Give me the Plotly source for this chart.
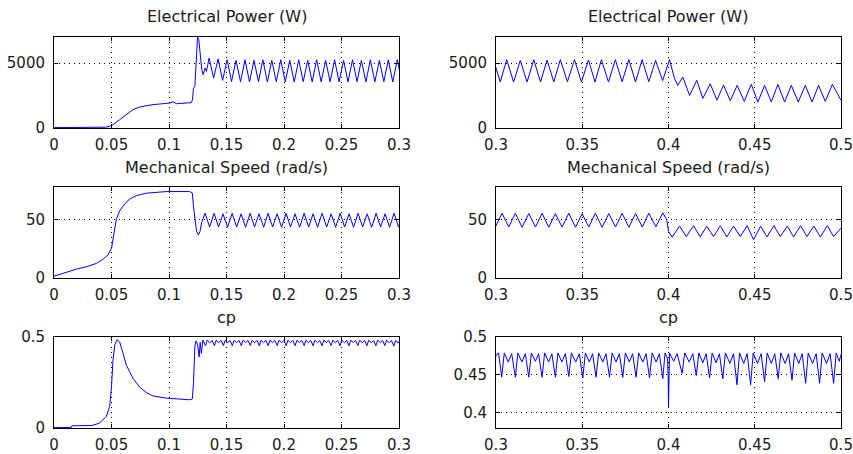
import plotly.graph_objects as go

# ---------------- data ----------------
power_t = [
    0.0000, 0.0200, 0.0450, 0.0484, 0.0513, 0.0571, 0.0629, 0.0687, 0.0745, 0.0803,
    0.0861, 0.0948, 0.1006, 0.1035, 0.1064, 0.1150, 0.1194, 0.1204, 0.1213, 0.1225,
    0.1233, 0.1248, 0.1259, 0.1271, 0.1285, 0.1297, 0.1314, 0.1326,
    0.1349, 0.1388, 0.1427, 0.1466, 0.1505, 0.1544, 0.1583, 0.1622, 0.1661, 0.1700,
    0.1739, 0.1778, 0.1816, 0.1855, 0.1894, 0.1933, 0.1972, 0.2011, 0.2050, 0.2089,
    0.2128, 0.2167, 0.2206, 0.2245, 0.2284, 0.2323, 0.2362, 0.2401, 0.2440, 0.2479,
    0.2518, 0.2557, 0.2596, 0.2635, 0.2673, 0.2712, 0.2751, 0.2790, 0.2829, 0.2868,
    0.2907, 0.2946, 0.2985, 0.3025,
    0.3062, 0.3102, 0.3141, 0.3180, 0.3219, 0.3258, 0.3296, 0.3335, 0.3373, 0.3414,
    0.3455, 0.3495, 0.3536, 0.3574, 0.3611, 0.3652, 0.3692, 0.3731, 0.3770, 0.3809,
    0.3847, 0.3886, 0.3925, 0.3966, 0.4006, 0.4035, 0.4054, 0.4083, 0.4122, 0.4164,
    0.4199, 0.4242, 0.4281, 0.4319, 0.4358, 0.4398, 0.4439, 0.4480, 0.4518, 0.4557,
    0.4596, 0.4634, 0.4673, 0.4712, 0.4752, 0.4793, 0.4832, 0.4870, 0.4909, 0.4950,
    0.5000]
power_w = [
    30, 40, 60, 130, 256, 640, 1025, 1410, 1615, 1720,
    1800, 1870, 1920, 2025, 1870, 1920, 1950, 2165, 3067, 3196,
    5000, 7000, 6800, 5773, 4485, 4098, 4613, 4356,
    5387, 3840, 5309, 3660, 5250, 3580, 5200, 3560, 5250, 3550,
    5200, 3560, 5250, 3540, 5200, 3560, 5250, 3550, 5200, 3540,
    5250, 3560, 5200, 3540, 5250, 3550, 5200, 3560, 5250, 3540,
    5200, 3550, 5250, 3560, 5200, 3540, 5250, 3550, 5200, 3560,
    5250, 3540, 5250, 3540,
    5256, 3540, 5200, 3538, 5256, 3540, 5230, 3538, 5256, 3560,
    5256, 3540, 5230, 3538, 5256, 3540, 5256, 3560, 5256, 3540,
    5256, 3560, 5200, 3650, 5256, 3800, 3280, 3920, 2510, 3670,
    2280, 3400, 2150, 3300, 2100, 3280, 2050, 3360, 2000, 3280,
    2000, 3360, 2000, 3280, 2000, 3280, 2000, 3280, 2050, 3360,
    2128]

speed_t = [
    0.0000, 0.0107, 0.0194, 0.0281, 0.0368, 0.0426, 0.0470, 0.0500, 0.0519, 0.0542,
    0.0571, 0.0615, 0.0658, 0.0716, 0.0803, 0.0890, 0.0977, 0.1180, 0.1203, 0.1214,
    0.1226, 0.1240, 0.1255, 0.1270, 0.1285,
    0.1314, 0.1353, 0.1392, 0.1431, 0.1470, 0.1510, 0.1549, 0.1588, 0.1627, 0.1666,
    0.1705, 0.1744, 0.1783, 0.1823, 0.1862, 0.1901, 0.1940, 0.1979, 0.2018, 0.2057,
    0.2096, 0.2136, 0.2175, 0.2214, 0.2253, 0.2292, 0.2331, 0.2371, 0.2410, 0.2449,
    0.2488, 0.2527, 0.2566, 0.2605, 0.2644, 0.2684, 0.2723, 0.2762, 0.2801, 0.2840,
    0.2879, 0.2918, 0.2957, 0.2996,
    0.3035, 0.3074, 0.3112, 0.3151, 0.3190, 0.3229, 0.3267, 0.3306, 0.3344, 0.3383,
    0.3422, 0.3461, 0.3499, 0.3538, 0.3576, 0.3615, 0.3654, 0.3693, 0.3731, 0.3770,
    0.3809, 0.3848, 0.3886, 0.3927, 0.3967, 0.3990, 0.4000, 0.4021, 0.4064, 0.4103,
    0.4145, 0.4184, 0.4222, 0.4261, 0.4300, 0.4338, 0.4377, 0.4416, 0.4456, 0.4493,
    0.4534, 0.4571, 0.4611, 0.4648, 0.4689, 0.4725, 0.4766, 0.4803, 0.4843, 0.4880,
    0.4921, 0.4957, 0.5000]
speed_w = [
    1.5, 5.2, 7.6, 9.6, 12.5, 16.0, 19.8, 25.6, 38.7, 50.3,
    57.6, 63.4, 67.7, 70.6, 72.7, 73.5, 74.1, 74.1, 72.7, 60.5,
    48.8, 40.0, 37.0, 40.0, 48.0,
    55.5, 43.7, 55.5, 43.7, 55.0, 43.5, 55.5, 43.7, 55.0, 43.5,
    55.5, 43.7, 55.0, 43.5, 55.5, 43.7, 55.0, 43.5, 55.5, 43.7,
    55.0, 43.5, 55.5, 43.7, 55.0, 43.5, 55.5, 43.7, 55.0, 43.5,
    55.5, 43.7, 55.0, 43.5, 55.5, 43.7, 55.0, 43.5, 55.5, 43.7,
    55.0, 43.5, 55.5, 43.7,
    55.5, 43.7, 55.5, 43.5, 55.2, 43.7, 55.5, 43.5, 55.2, 43.7,
    55.5, 43.5, 55.2, 43.7, 55.5, 43.5, 55.2, 43.7, 55.5, 43.5,
    55.2, 43.7, 55.5, 44.0, 55.8, 50.0, 40.0, 35.0, 44.5, 35.5,
    44.8, 35.2, 44.5, 35.5, 44.8, 35.2, 44.5, 35.5, 44.8, 32.8,
    44.5, 35.2, 44.8, 35.5, 44.5, 35.2, 44.8, 35.5, 44.5, 35.2,
    44.8, 35.5, 42.8]

cp_t = [
    0.0000, 0.0150, 0.0155, 0.0330, 0.0397, 0.0455, 0.0484, 0.0500, 0.0513, 0.0528,
    0.0548, 0.0571, 0.0600, 0.0629, 0.0687, 0.0745, 0.0803, 0.0861, 0.0977, 0.1093,
    0.1180, 0.1203, 0.1213, 0.1225, 0.1235, 0.1248, 0.1262, 0.1271, 0.1282, 0.1294,
    0.1317, 0.1332, 0.1355, 0.1375, 0.1395, 0.1410, 0.1433, 0.1453,
    0.1473, 0.1488, 0.1511, 0.1531, 0.1551, 0.1566, 0.1589, 0.1609,
    0.1629, 0.1644, 0.1667, 0.1687, 0.1707, 0.1722, 0.1745, 0.1765,
    0.1785, 0.1800, 0.1823, 0.1843, 0.1863, 0.1878, 0.1901, 0.1921,
    0.1941, 0.1956, 0.1979, 0.1999, 0.2019, 0.2034, 0.2057, 0.2077,
    0.2097, 0.2112, 0.2135, 0.2155, 0.2175, 0.2190, 0.2213, 0.2233,
    0.2253, 0.2268, 0.2291, 0.2311, 0.2331, 0.2346, 0.2369, 0.2389,
    0.2409, 0.2424, 0.2447, 0.2467, 0.2487, 0.2502, 0.2525, 0.2545,
    0.2565, 0.2580, 0.2603, 0.2623, 0.2643, 0.2658, 0.2681, 0.2701,
    0.2721, 0.2736, 0.2759, 0.2779, 0.2799, 0.2814, 0.2837, 0.2857,
    0.2877, 0.2892, 0.2915, 0.2935, 0.2955, 0.2970, 0.2993,
    0.3000, 0.3015, 0.3033, 0.3048, 0.3071, 0.3091, 0.3112, 0.3127, 0.3150, 0.3170,
    0.3190, 0.3205, 0.3228, 0.3247, 0.3267, 0.3282, 0.3305, 0.3324, 0.3344, 0.3359,
    0.3382, 0.3402, 0.3422, 0.3437, 0.3462, 0.3483, 0.3503, 0.3518, 0.3541, 0.3560,
    0.3580, 0.3595, 0.3619, 0.3638, 0.3658, 0.3673, 0.3696, 0.3715, 0.3735, 0.3750,
    0.3773, 0.3792, 0.3812, 0.3827, 0.3851, 0.3870, 0.3890, 0.3905, 0.3928, 0.3947,
    0.3967, 0.3980, 0.3994, 0.3998, 0.4000, 0.4002, 0.4006, 0.4030, 0.4050, 0.4079,
    0.4094, 0.4120, 0.4141, 0.4161, 0.4176, 0.4199, 0.4218, 0.4238, 0.4253, 0.4276,
    0.4295, 0.4315, 0.4330, 0.4356, 0.4377, 0.4397, 0.4412, 0.4436, 0.4456, 0.4476,
    0.4491, 0.4516, 0.4537, 0.4557, 0.4572, 0.4596, 0.4616, 0.4636, 0.4651, 0.4676,
    0.4696, 0.4716, 0.4731, 0.4755, 0.4775, 0.4795, 0.4810, 0.4835, 0.4856, 0.4876,
    0.4891, 0.4916, 0.4937, 0.4957, 0.4972, 0.4990, 0.5000]
cp_v = [
    0.002, 0.003, 0.012, 0.014, 0.027, 0.064, 0.118, 0.227, 0.373, 0.455,
    0.485, 0.473, 0.410, 0.345, 0.273, 0.224, 0.195, 0.176, 0.164, 0.160,
    0.155, 0.160, 0.250, 0.450, 0.478, 0.460, 0.390, 0.470, 0.410, 0.483,
    0.452, 0.482, 0.469, 0.481, 0.452, 0.482, 0.469, 0.481,
    0.453, 0.482, 0.469, 0.481, 0.452, 0.482, 0.469, 0.481,
    0.452, 0.482, 0.470, 0.481, 0.453, 0.482, 0.469, 0.481,
    0.452, 0.482, 0.469, 0.481, 0.452, 0.482, 0.470, 0.481,
    0.453, 0.482, 0.469, 0.481, 0.452, 0.482, 0.469, 0.481,
    0.452, 0.482, 0.470, 0.481, 0.453, 0.482, 0.469, 0.481,
    0.452, 0.482, 0.469, 0.481, 0.452, 0.482, 0.470, 0.481,
    0.453, 0.482, 0.469, 0.481, 0.452, 0.482, 0.469, 0.481,
    0.452, 0.482, 0.470, 0.481, 0.453, 0.482, 0.469, 0.481,
    0.452, 0.482, 0.469, 0.481, 0.452, 0.482, 0.470, 0.481,
    0.453, 0.482, 0.469, 0.481, 0.450, 0.480, 0.468,
    0.476, 0.479, 0.447, 0.479, 0.467, 0.478, 0.447, 0.479, 0.467, 0.478,
    0.447, 0.479, 0.468, 0.478, 0.447, 0.479, 0.467, 0.478, 0.447, 0.479,
    0.467, 0.478, 0.448, 0.479, 0.467, 0.478, 0.446, 0.479, 0.467, 0.478,
    0.447, 0.479, 0.467, 0.478, 0.447, 0.479, 0.467, 0.478, 0.447, 0.479,
    0.467, 0.478, 0.447, 0.479, 0.467, 0.478, 0.446, 0.479, 0.467, 0.478,
    0.445, 0.479, 0.472, 0.448, 0.4065, 0.455, 0.479, 0.468, 0.478, 0.452,
    0.479, 0.467, 0.478, 0.449, 0.479, 0.466, 0.478, 0.446, 0.479, 0.466,
    0.478, 0.445, 0.479, 0.465, 0.478, 0.437, 0.479, 0.465, 0.478, 0.437,
    0.479, 0.465, 0.478, 0.441, 0.479, 0.465, 0.478, 0.445, 0.479, 0.465,
    0.478, 0.443, 0.479, 0.465, 0.478, 0.439, 0.479, 0.465, 0.478, 0.439,
    0.479, 0.465, 0.478, 0.439, 0.479, 0.468, 0.477]

titles = ["Electrical Power (W)", "Mechanical Speed (rad/s)", "cp"]

x_left_ticks = [0, 0.05, 0.1, 0.15, 0.2, 0.25, 0.3]
x_left_text = ["0", "0.05", "0.1", "0.15", "0.2", "0.25", "0.3"]
x_right_ticks = [0.3, 0.35, 0.4, 0.45, 0.5]
x_right_text = ["0.3", "0.35", "0.4", "0.45", "0.5"]

y_power_ticks = [0, 5000]
y_speed_ticks = [0, 50]
y_cp_left_ticks = [0, 0.5]
y_cp_right_ticks = [0.4, 0.45, 0.5]

# ---------------- figure ----------------
W, H = 853, 454
FONT = "DejaVu Sans, Arial, sans-serif"
BLUE = "#0000FF"
TXT = "#1a1a1a"

x_dom = [[54 / W, 399 / W], [496 / W, 841 / W]]
rows_px = [(37, 128), (187, 278), (337, 428)]
y_dom = [[1 - b / H, 1 - t / H] for t, b in rows_px]

series = [(power_t, power_w), (speed_t, speed_w), (cp_t, cp_v)]
y_ranges = [
    ([0, 7000], [0, 7000]),
    ([0, 78], [0, 78]),
    ([0, 0.5], [0.38, 0.5]),
]
y_ticks = [
    (y_power_ticks, y_power_ticks),
    (y_speed_ticks, y_speed_ticks),
    (y_cp_left_ticks, y_cp_right_ticks),
]

fig = go.Figure()
layout = dict(
    template="none",
    width=W, height=H, autosize=False,
    margin=dict(l=0, r=0, t=0, b=0, pad=0, autoexpand=False),
    paper_bgcolor="white", plot_bgcolor="white", showlegend=False,
    font=dict(family=FONT, size=15, color=TXT),
)

common = dict(
    showline=True, linecolor="black", linewidth=1, mirror="ticks",
    ticks="inside", ticklen=4, tickcolor="black", tickwidth=1,
    showgrid=True, gridcolor="black", gridwidth=1, griddash="1px,4px",
    zeroline=False, automargin=False,
    tickfont=dict(family=FONT, size=15, color=TXT),
)

annotations = []
idx = 0
for r in range(3):
    t, v = series[r]
    for c in range(2):
        idx += 1
        xa = "x" if idx == 1 else f"x{idx}"
        ya = "y" if idx == 1 else f"y{idx}"
        fig.add_trace(go.Scatter(x=t, y=v, mode="lines", xaxis=xa, yaxis=ya,
                                 line=dict(color=BLUE, width=1), hoverinfo="skip"))
        xk = "xaxis" if idx == 1 else f"xaxis{idx}"
        yk = "yaxis" if idx == 1 else f"yaxis{idx}"
        if c == 0:
            xt, xtt, xr = x_left_ticks, x_left_text, [0, 0.3]
        else:
            xt, xtt, xr = x_right_ticks, x_right_text, [0.3, 0.5]
        yt = y_ticks[r][c]
        layout[xk] = dict(common, domain=x_dom[c], range=xr, anchor=ya,
                          tickmode="array", tickvals=xt, ticktext=xtt,
                          ticklabelstandoff=3)
        layout[yk] = dict(common, domain=y_dom[r], range=y_ranges[r][c], anchor=xa,
                          tickmode="array", tickvals=yt,
                          ticktext=[f"{q:g}" for q in yt],
                          ticklabelstandoff=5)
        annotations.append(dict(
            text=titles[r], xref="paper", yref="paper",
            x=(x_dom[c][0] + x_dom[c][1]) / 2, y=1 - (rows_px[r][0] - 20) / H,
            xanchor="center", yanchor="middle", showarrow=False,
            font=dict(family=FONT, size=16, color=TXT)))

layout["annotations"] = annotations
fig.update_layout(**layout)
fig.write_html("out.html",
               config={"displayModeBar": False, "staticPlot": True},
               post_script="document.body.style.margin='0';"
                           "document.body.style.overflow='hidden';")
